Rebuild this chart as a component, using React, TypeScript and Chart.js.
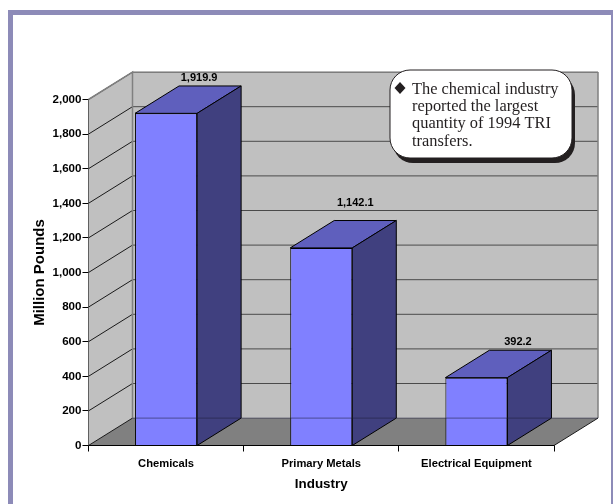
import React, { useEffect, useRef } from "react";
import { Chart, registerables } from "chart.js";

Chart.register(...registerables);

const industries = ["Chemicals", "Primary Metals", "Electrical Equipment"];
const transfers = [1919.9, 1142.1, 392.2];
const valueLabels = ["1,919.9", "1,142.1", "392.2"];
const calloutLines = [
  "The chemical industry",
  "reported the largest",
  "quantity of 1994 TRI",
  "transfers.",
];

// Depth of the pseudo-3D box, in pixels.
const DEPTH_X = 44;
const DEPTH_Y = -27.4;
// Value labels sit above each bar's top face, nudged individually.
const LABEL_LIFT = [35, 45, 36];
const LABEL_SHIFT = [33, 34, 41.5];

const poly = (ctx: CanvasRenderingContext2D, pts: number[][]) => {
  ctx.beginPath();
  pts.forEach(([x, y], i) => (i ? ctx.lineTo(x, y) : ctx.moveTo(x, y)));
  ctx.closePath();
};

const roundBox = (ctx: CanvasRenderingContext2D, x: number, y: number, w: number, h: number, r: number) => {
  ctx.beginPath();
  ctx.roundRect(x, y, w, h, r);
};

const framePlugin = {
  id: "frame",
  beforeDraw(chart: any) {
    const { ctx, width, height } = chart;
    ctx.save();
    ctx.fillStyle = "#ffffff";
    ctx.fillRect(0, 0, width, height);
    ctx.fillStyle = "#8D8BB8";
    ctx.fillRect(8, 10, 5, height - 10);
    ctx.fillRect(8, 10, width - 8, 5);
    ctx.fillRect(width - 2, 10, 2, height - 10);
    ctx.restore();
  },
};

const boxPlugin = {
  id: "box3d",
  beforeDatasetsDraw(chart: any) {
    const { ctx, chartArea: a, scales } = chart;
    const y = scales.y;
    const l = a.left, r = a.right, b = a.bottom, t = a.top;
    ctx.save();
    // Back wall and side wall
    ctx.fillStyle = "#C0C0C0";
    ctx.fillRect(l + DEPTH_X, t + DEPTH_Y, r - l, b - t);
    poly(ctx, [[l, t], [l + DEPTH_X, t + DEPTH_Y], [l + DEPTH_X, b + DEPTH_Y], [l, b]]);
    ctx.fill();
    // Floor
    ctx.fillStyle = "#808080";
    poly(ctx, [[l, b], [l + DEPTH_X, b + DEPTH_Y], [r + DEPTH_X, b + DEPTH_Y], [r, b]]);
    ctx.fill();
    // Grid lines across both walls
    ctx.lineWidth = 1;
    y.ticks.forEach((tick: any) => {
      const py = y.getPixelForValue(tick.value);
      ctx.strokeStyle = "#1a1a1a";
      ctx.beginPath();
      ctx.moveTo(l, py);
      ctx.lineTo(l + DEPTH_X, py + DEPTH_Y);
      ctx.stroke();
      if (tick.value > 0) {
        ctx.strokeStyle = "#4a4a4a";
        ctx.beginPath();
        ctx.moveTo(l + DEPTH_X, py + DEPTH_Y);
        ctx.lineTo(r + DEPTH_X, py + DEPTH_Y);
        ctx.stroke();
      }
    });
    ctx.strokeStyle = "#808080";
    ctx.lineWidth = 1.5;
    ctx.beginPath();
    ctx.moveTo(l, t);
    ctx.lineTo(l + DEPTH_X, t + DEPTH_Y);
    ctx.lineTo(l + DEPTH_X, b + DEPTH_Y);
    ctx.moveTo(r + DEPTH_X, t + DEPTH_Y);
    ctx.lineTo(r + DEPTH_X, b + DEPTH_Y);
    ctx.stroke();
    ctx.strokeStyle = "#1a1a1a";
    ctx.lineWidth = 1;
    ctx.beginPath();
    ctx.moveTo(r, b);
    ctx.lineTo(r + DEPTH_X, b + DEPTH_Y);
    ctx.stroke();

    // Top and side faces of every bar, behind its front face
    chart.getDatasetMeta(0).data.forEach((bar: any) => {
      const half = bar.width / 2;
      const x0 = bar.x - half, x1 = bar.x + half;
      ctx.strokeStyle = "#000000";
      ctx.lineWidth = 1;
      ctx.fillStyle = "#5F5FBD";
      poly(ctx, [[x0, bar.y], [x0 + DEPTH_X, bar.y + DEPTH_Y], [x1 + DEPTH_X, bar.y + DEPTH_Y], [x1, bar.y]]);
      ctx.fill();
      ctx.stroke();
      ctx.fillStyle = "#40407F";
      poly(ctx, [[x1, bar.y], [x1 + DEPTH_X, bar.y + DEPTH_Y], [x1 + DEPTH_X, b + DEPTH_Y], [x1, b]]);
      ctx.fill();
      ctx.stroke();
    });
    ctx.restore();
  },
  afterDatasetsDraw(chart: any) {
    const { ctx, chartArea: a } = chart;
    ctx.save();
    // Rear floor edge showing through the bars
    ctx.strokeStyle = "rgba(30,30,60,0.55)";
    ctx.lineWidth = 1;
    ctx.beginPath();
    ctx.moveTo(a.left + DEPTH_X, a.bottom + DEPTH_Y);
    ctx.lineTo(a.right + DEPTH_X, a.bottom + DEPTH_Y);
    ctx.stroke();
    // Bottom front axis line in front of the bars
    ctx.strokeStyle = "#000000";
    ctx.beginPath();
    ctx.moveTo(a.left, a.bottom);
    ctx.lineTo(a.right, a.bottom);
    ctx.stroke();
    // Value labels floating over the bars
    ctx.fillStyle = "#000000";
    ctx.font = 'bold 11px "Liberation Sans"';
    ctx.textAlign = "center";
    ctx.textBaseline = "middle";
    chart.getDatasetMeta(0).data.forEach((bar: any, i: number) => {
      ctx.fillText(valueLabels[i], bar.x + LABEL_SHIFT[i], bar.y - LABEL_LIFT[i]);
    });
    ctx.restore();
  },
};

const calloutPlugin = {
  id: "callout",
  afterDraw(chart: any) {
    const { ctx } = chart;
    ctx.save();
    ctx.fillStyle = "#231F20";
    roundBox(ctx, 393, 75, 182, 88, 20);
    ctx.fill();
    ctx.fillStyle = "#ffffff";
    ctx.strokeStyle = "#231F20";
    ctx.lineWidth = 1;
    roundBox(ctx, 390, 70, 182, 88, 20);
    ctx.fill();
    ctx.stroke();
    ctx.fillStyle = "#231F20";
    poly(ctx, [[400, 82], [405.5, 88], [400, 94], [394.5, 88]]);
    ctx.fill();
    ctx.font = '16.4px "Liberation Serif"';
    ctx.textAlign = "left";
    ctx.textBaseline = "alphabetic";
    calloutLines.forEach((line, i) => ctx.fillText(line, 412, 93.5 + i * 17.4));
    ctx.restore();
  },
};

export default function App() {
  const ref = useRef<HTMLCanvasElement>(null);
  useEffect(() => {
    const chart = new Chart(ref.current!, {
      type: "bar",
      data: {
        labels: industries,
        datasets: [
          {
            data: transfers,
            backgroundColor: "#8080FF",
            borderColor: "#000000",
            borderWidth: 1,
            barPercentage: 0.4,
            categoryPercentage: 1,
          },
        ],
      },
      options: {
        animation: false,
        responsive: false,
        layout: { padding: { left: 30.5, top: 99.5, right: 59, bottom: 12 } },
        plugins: { legend: { display: false }, tooltip: { enabled: false }, title: { display: false } },
        scales: {
          x: {
            afterFit: (s: any) => { s.height = 46.5; },
            grid: { display: true, drawOnChartArea: false, drawTicks: true, tickLength: 6, color: "#000000", offset: true },
            border: { color: "#000000", width: 1 },
            ticks: { color: "#000000", font: { family: "Liberation Sans", size: 11.2, weight: "bold" }, padding: 6, maxRotation: 0 },
            title: { display: true, text: "Industry", color: "#000000", font: { family: "Liberation Sans", size: 13.4, weight: "bold" }, padding: 0 },
          },
          y: {
            min: 0,
            max: 2000,
            afterFit: (s: any) => { s.width = 58; },
            grid: { display: true, drawOnChartArea: false, drawTicks: true, tickLength: 6, color: "#000000" },
            border: { color: "#000000", width: 1 },
            ticks: {
              stepSize: 200,
              color: "#000000",
              font: { family: "Liberation Sans", size: 11.6, weight: "bold" },
              padding: 1,
              callback: (v: any) => Number(v).toLocaleString("en-US"),
            },
            title: { display: true, text: "Million Pounds", color: "#000000", font: { family: "Liberation Sans", size: 15, weight: "bold" }, padding: 0 },
          },
        },
      },
      plugins: [framePlugin, boxPlugin, calloutPlugin],
    } as any);
    return () => chart.destroy();
  }, []);
  return (
    <div style={{ position: "absolute", left: 0, top: 0, width: 613, height: 504, overflow: "hidden", background: "#fff" }}>
      <canvas ref={ref} width={613} height={504} style={{ display: "block" }} />
    </div>
  );
}
